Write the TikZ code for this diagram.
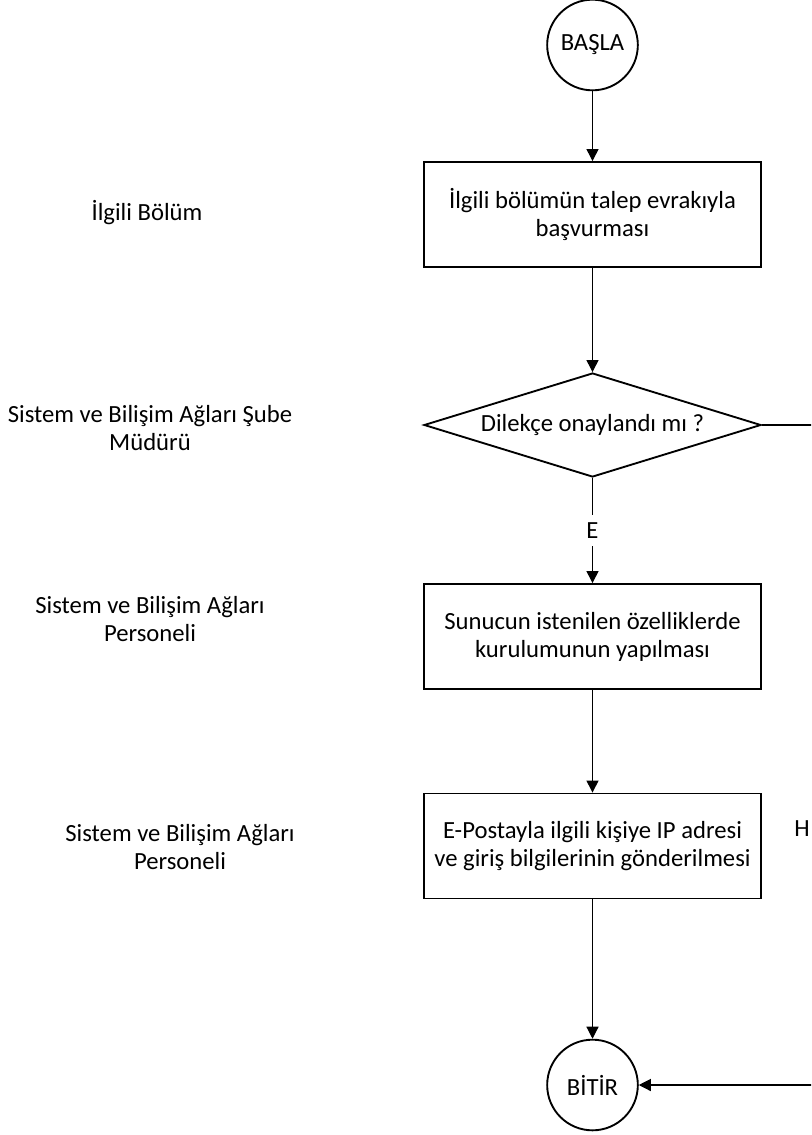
\documentclass[tikz,border=0pt]{standalone}
\usepackage{fontspec}
\setmainfont{Carlito}
\usetikzlibrary{shapes.geometric,arrows.meta}
\tikzset{
  akis/.style={draw, line width=1.4pt, minimum width=252.75pt, minimum height=78.75pt, align=center, inner sep=0pt},
  ucnokta/.style={circle, draw, line width=1.4pt, minimum size=68pt, inner sep=0pt},
  karar/.style={diamond, draw, line width=1.4pt, minimum width=252.75pt, minimum height=78pt, aspect=3.2, inner sep=0pt},
  etiket/.style={align=center},
  ok/.style={line width=0.9pt, -{Triangle[length=9pt,width=9pt]}},
  cizgi/.style={line width=0.9pt}
}
\begin{document}
\begin{tikzpicture}[x=0.75pt, y=-0.75pt, font=\fontsize{18.5}{21}\selectfont]
  \useasboundingbox (0,0) rectangle (811,1135);
  \clip (0,0) rectangle (811,1135);

    % Draw the flow nodes
  \node[ucnokta] (basla) at (592.5,45) {BAŞLA};
  \node[akis] (b1) at (592.5,214.5) {İlgili bölümün talep evrakıyla\\başvurması};
  \node[karar] (d1) at (592.5,425) {Dilekçe onaylandı mı ?};
  \node[akis] (b2) at (592.5,636.5) {Sunucun istenilen özelliklerde\\kurulumunun yapılması};
  \node[akis] (b3) at (592.5,846) {E-Postayla ilgili kişiye IP adresi\\ve giriş bilgilerinin gönderilmesi};
  \node[ucnokta] (bitir) at (592.5,1085) {BİTİR};

    % Draw the lane labels
  \node[etiket] (l1) at (147,213) {İlgili Bölüm};
  \node[etiket] (l2) at (150,428) {Sistem ve Bilişim Ağları Şube\\Müdürü};
  \node[etiket] (l3) at (150,619) {Sistem ve Bilişim Ağları\\Personeli};
  \node[etiket] (l4) at (180,847) {Sistem ve Bilişim Ağları\\Personeli};
  \node[anchor=east, inner sep=0pt] (hayir) at (810,829) {H};

    % Draw the edges
  \coordinate (sag1) at (830,425);
  \coordinate (sag2) at (830,1085);
  \draw[ok] (basla) -- (b1);
  \draw[ok] (b1) -- (d1);
  \draw[ok] (d1) -- node[fill=white, inner xsep=3pt, inner ysep=6pt] (e) {E} (b2);
  \draw[ok] (b2) -- (b3);
  \draw[ok] (b3) -- (bitir);
  \draw[cizgi] (d1) -- (sag1);
  \draw[ok] (sag2) -- (bitir);
\end{tikzpicture}
\end{document}
